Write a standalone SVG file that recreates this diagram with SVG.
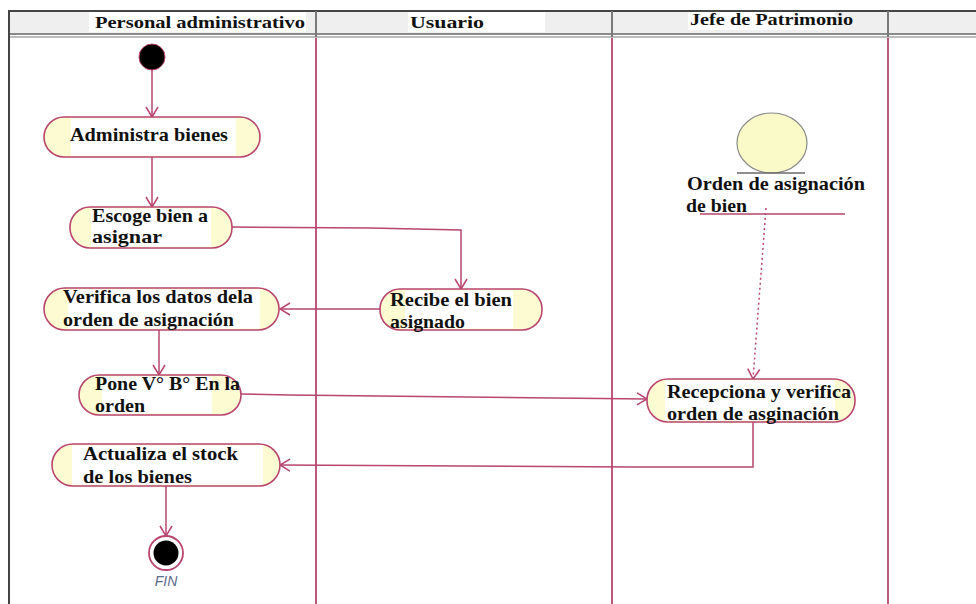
<svg xmlns="http://www.w3.org/2000/svg" width="976" height="604" viewBox="0 0 976 604">
<defs>
<style>
.act{fill:#fdfbd2;stroke:#b8466f;stroke-width:1.6}
.wb{fill:#ffffff}
.t{font-family:"Liberation Serif","DejaVu Serif",serif;font-weight:bold;font-size:19px;fill:#111}
.h{font-family:"Liberation Serif","DejaVu Serif",serif;font-weight:bold;font-size:17px;fill:#111}
.c{fill:none;stroke:#b8466f;stroke-width:1.5}
.lane{stroke:#c0587e;stroke-width:2}
.hd{stroke:#7a7a7a;stroke-width:2}
</style>
<marker id="ar" viewBox="0 0 12 14" refX="11" refY="7" markerWidth="12" markerHeight="14" markerUnits="userSpaceOnUse" orient="auto">
<path d="M1 1 L11 7 L1 13" fill="none" stroke="#b8466f" stroke-width="1.5"/>
</marker>
</defs>
<rect width="976" height="604" fill="#ffffff"/>
<g id="swimlanes">
<rect x="9" y="11" width="967" height="23" fill="#efefef"/>
<rect x="89" y="12" width="217" height="20" fill="#ffffff"/>
<rect x="408" y="12" width="137" height="20" fill="#ffffff"/>
<rect x="688" y="12" width="147" height="18" fill="#ffffff"/>
<line x1="9" y1="11" x2="976" y2="11" stroke="#444" stroke-width="2"/>
<line x1="9" y1="34" x2="976" y2="34" stroke="#8a8a8a" stroke-width="2"/>
<line x1="9" y1="37" x2="976" y2="37" stroke="#bdbdbd" stroke-width="2"/>
<line x1="9" y1="10" x2="9" y2="604" stroke="#444" stroke-width="2"/>
<line class="hd" x1="316" y1="11" x2="316" y2="37"/>
<line class="hd" x1="612" y1="11" x2="612" y2="37"/>
<line class="hd" x1="888" y1="11" x2="888" y2="37"/>
<line class="lane" x1="316" y1="38" x2="316" y2="604"/>
<line class="lane" x1="612" y1="38" x2="612" y2="604"/>
<line class="lane" x1="888" y1="38" x2="888" y2="604"/>
<text class="h" x="95" y="28" textLength="210" lengthAdjust="spacingAndGlyphs">Personal administrativo</text>
<text class="h" x="410" y="28" textLength="74" lengthAdjust="spacingAndGlyphs">Usuario</text>
<text class="h" x="690" y="25" textLength="163" lengthAdjust="spacingAndGlyphs">Jefe de Patrimonio</text>
</g>
<g id="connectors">
<line class="c" x1="152" y1="70" x2="152" y2="117" marker-end="url(#ar)"/>
<line class="c" x1="152" y1="157" x2="152" y2="207" marker-end="url(#ar)"/>
<polyline class="c" points="232,227 370,228 461,230 461,289" marker-end="url(#ar)"/>
<line class="c" x1="380" y1="309" x2="280" y2="309" marker-end="url(#ar)"/>
<line class="c" x1="159" y1="330" x2="159" y2="375" marker-end="url(#ar)"/>
<polyline class="c" points="241,394 290,395 647,399" marker-end="url(#ar)"/>
<polyline class="c" points="753,422 753,467 632,467 280,465" marker-end="url(#ar)"/>
<line class="c" x1="166" y1="486" x2="166" y2="536" marker-end="url(#ar)"/>
<line class="c" x1="766" y1="208" x2="753" y2="379" stroke-width="2" stroke-dasharray="2 3" marker-end="url(#ar)"/>
</g>
<g id="inicio">
<circle cx="152" cy="57" r="13" fill="#000" stroke="#b8466f" stroke-width="1"/>
</g>
<g id="administra">
<rect class="act" x="44" y="117" width="216" height="40" rx="20"/>
<rect class="wb" x="71" y="118.5" width="165" height="37"/>
<text class="t" x="70" y="141" textLength="158" lengthAdjust="spacingAndGlyphs">Administra bienes</text>
</g>
<g id="escoge">
<rect class="act" x="70" y="207" width="162" height="41" rx="20"/>
<rect class="wb" x="91" y="208.5" width="120" height="38"/>
<text class="t" x="92" y="222" textLength="116" lengthAdjust="spacingAndGlyphs">Escoge bien a</text>
<text class="t" x="92" y="243" textLength="70" lengthAdjust="spacingAndGlyphs">asignar</text>
</g>
<g id="verifica">
<rect class="act" x="44" y="288" width="235" height="42" rx="21"/>
<rect class="wb" x="68" y="289.5" width="192" height="39"/>
<text class="t" x="63" y="303" textLength="190" lengthAdjust="spacingAndGlyphs">Verifica los datos dela</text>
<text class="t" x="63" y="326" textLength="171" lengthAdjust="spacingAndGlyphs">orden de asignación</text>
</g>
<g id="recibe">
<rect class="act" x="380" y="289" width="162" height="41" rx="20"/>
<rect class="wb" x="405" y="290.5" width="108" height="38"/>
<text class="t" x="390" y="306" textLength="122" lengthAdjust="spacingAndGlyphs">Recibe el bien</text>
<text class="t" x="390" y="328" textLength="75" lengthAdjust="spacingAndGlyphs">asignado</text>
</g>
<g id="pone">
<rect class="act" x="79" y="375" width="162" height="40" rx="20"/>
<rect class="wb" x="102" y="376.5" width="110" height="37"/>
<text class="t" x="95" y="390" textLength="145" lengthAdjust="spacingAndGlyphs">Pone V° B° En la</text>
<text class="t" x="95" y="412" textLength="50" lengthAdjust="spacingAndGlyphs">orden</text>
</g>
<g id="actualiza">
<rect class="act" x="52" y="444" width="228" height="42" rx="21"/>
<rect class="wb" x="72" y="445.5" width="191" height="39"/>
<text class="t" x="83" y="460" textLength="155" lengthAdjust="spacingAndGlyphs">Actualiza el stock</text>
<text class="t" x="83" y="483" textLength="109" lengthAdjust="spacingAndGlyphs">de los bienes</text>
</g>
<g id="fin">
<circle cx="166" cy="553" r="17" fill="#ffffff" stroke="#b8466f" stroke-width="1.8"/>
<circle cx="166" cy="553" r="12.5" fill="#000"/>
<text x="166" y="586" text-anchor="middle" font-family="'Liberation Sans','DejaVu Sans',sans-serif" font-style="italic" font-size="14" fill="#5c6a8c">FIN</text>
</g>
<g id="orden-objeto">
<ellipse cx="772" cy="143" rx="35" ry="30" fill="#fafac8" stroke="#8a8a8a" stroke-width="1.2"/>
<line x1="737" y1="173" x2="805" y2="173" stroke="#6a6a6a" stroke-width="1.5"/>
<text class="t" x="687" y="190" textLength="178" lengthAdjust="spacingAndGlyphs">Orden de asignación</text>
<text class="t" x="686" y="212" textLength="61" lengthAdjust="spacingAndGlyphs">de bien</text>
<line x1="700" y1="214" x2="845" y2="214" stroke="#b8466f" stroke-width="1.5"/>
</g>
<g id="recepciona">
<rect class="act" x="647" y="379" width="208" height="43" rx="21"/>
<rect class="wb" x="665" y="380.5" width="170" height="40"/>
<text class="t" x="667" y="398" textLength="184" lengthAdjust="spacingAndGlyphs">Recepciona y verifica</text>
<text class="t" x="667" y="420" textLength="172" lengthAdjust="spacingAndGlyphs">orden de asginación</text>
</g>
</svg>
